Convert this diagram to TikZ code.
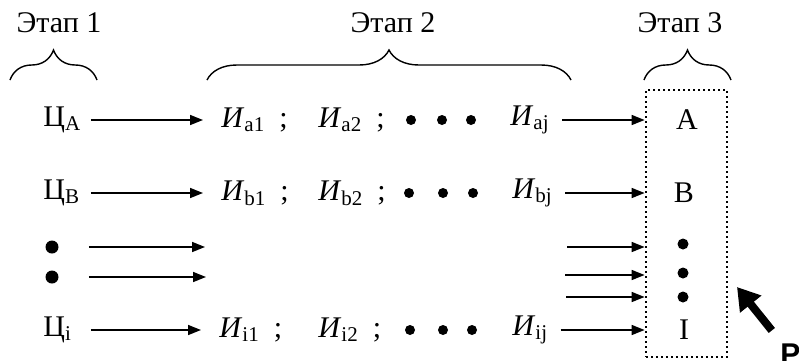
\documentclass[tikz,border=0pt]{standalone}
\usepackage{fontspec}
\setmainfont{Liberation Serif}
\newfontfamily\pfont{Liberation Sans}
\usetikzlibrary{arrows.meta,decorations.pathreplacing}

\newcommand{\clab}[1]{Ц\textsubscript{#1}}
\newcommand{\ilab}[1]{\textit{И}\textsubscript{#1}}
\newcommand{\isemi}[1]{\ilab{#1}\hspace{7pt};}

\begin{document}
\begin{tikzpicture}[
  x=0.5pt, y=-0.5pt,
  font=\fontsize{15}{17}\selectfont,
  lbl/.style={inner sep=0pt},
  cl/.style={lbl, text width=17.5pt, anchor=west},
  il/.style={lbl, anchor=west},
  dot/.style={circle, fill, inner sep=0pt, minimum size=6.5pt},
  sdot/.style={dot, minimum size=5pt},
  ar/.style={-{Triangle[length=6.5pt,width=5pt]}, line width=0.8pt, shorten <=6pt},
  toi/.style={ar, shorten >=9pt},
  brc/.style={decorate, decoration={brace, amplitude=15pt}, line width=0.7pt},
  resbox/.style={draw, line width=1.4pt, dash pattern=on 1.2pt off 1.3pt,
                 inner sep=0pt, minimum width=40.5pt, minimum height=133.5pt},
  parr/.style={-{Triangle[length=11pt,width=13pt]}, line width=4pt, shorten <=8pt}
]
\useasboundingbox (0,0) rectangle (799,360);

% stages
\node[anchor=base] (st1) at (59,32) {Этап 1};
\node[anchor=base] (st2) at (393,32) {Этап 2};
\node[anchor=base] (st3) at (680,32) {Этап 3};
\draw[brc] (10,80) -- (97,80);
\draw[brc] (207,80) -- (571,80);
\draw[brc] (644,80) -- (731,80);

% result box
\node[resbox] (res) at (686.5,223.5) {};
\node (ra) at (687,120) {A};
\node (rb) at (684,193) {B};
\node[dot, minimum size=5.5pt] (rd1) at (683,244) {};
\node[dot, minimum size=5.5pt] (rd2) at (683,273) {};
\node[dot, minimum size=5.5pt] (rd3) at (683,297) {};
\node (ri) at (684,330) {I};

% row A
\node[cl] (ca) at (43,120) {\clab{A}};
\node[il] (ia1) at (221,120) {\isemi{a1}};
\node[il] (ia2) at (318,120) {\isemi{a2}};
\node[sdot] (da1) at (411,120) {};
\node[sdot] (da2) at (442,120) {};
\node[sdot] (da3) at (471,120) {};
\node[il] (iaj) at (510,120) {\ilab{aj}};
\draw[toi] (ca) -- (ia1);
\draw[ar] (iaj) -- (iaj -| res.west);

% row B
\node[cl] (cb) at (43,193) {\clab{B}};
\node[il] (ib1) at (221,193) {\isemi{b1}};
\node[il] (ib2) at (318,193) {\isemi{b2}};
\node[sdot] (db1) at (409,193) {};
\node[sdot] (db2) at (443,193) {};
\node[sdot] (db3) at (473,193) {};
\node[il] (ibj) at (512,193) {\ilab{bj}};
\draw[toi] (cb) -- (ib1);
\draw[ar] (ibj) -- (ibj -| res.west);

% dotted rows
\node[dot] (ld1) at (52,247) {};
\node[dot] (ld2) at (52,277) {};
\coordinate (le1) at (205,247);
\coordinate (le2) at (206,277);
\draw[ar, shorten <=15pt] (ld1) -- (le1);
\draw[ar, shorten <=15pt] (ld2) -- (le2);
\coordinate (rs1) at (567,247);
\coordinate (rs2) at (565,275);
\coordinate (rs3) at (566,297);
\draw[ar, shorten <=0pt] (rs1) -- (rs1 -| res.west);
\draw[ar, shorten <=0pt] (rs2) -- (rs2 -| res.west);
\draw[ar, shorten <=0pt] (rs3) -- (rs3 -| res.west);

% row I
\node[cl] (ci) at (43,330) {\clab{i}};
\node[il] (ii1) at (219,330) {\isemi{i1}};
\node[il] (ii2) at (318,330) {\isemi{i2}};
\node[sdot] (di1) at (410,330) {};
\node[sdot] (di2) at (443,330) {};
\node[sdot] (di3) at (472,330) {};
\node[il] (iij) at (512,330) {\ilab{ij}};
\draw[toi] (ci) -- (ii1);
\draw[ar] (iij) -- (iij -| res.west);

% pointer
\node[lbl, anchor=base west, font=\pfont\bfseries\fontsize{15}{17}\selectfont] (pl) at (780,364) {Р};
\coordinate (ptip) at (737,287);
\draw[parr] (pl) -- (ptip);
\end{tikzpicture}
\end{document}
